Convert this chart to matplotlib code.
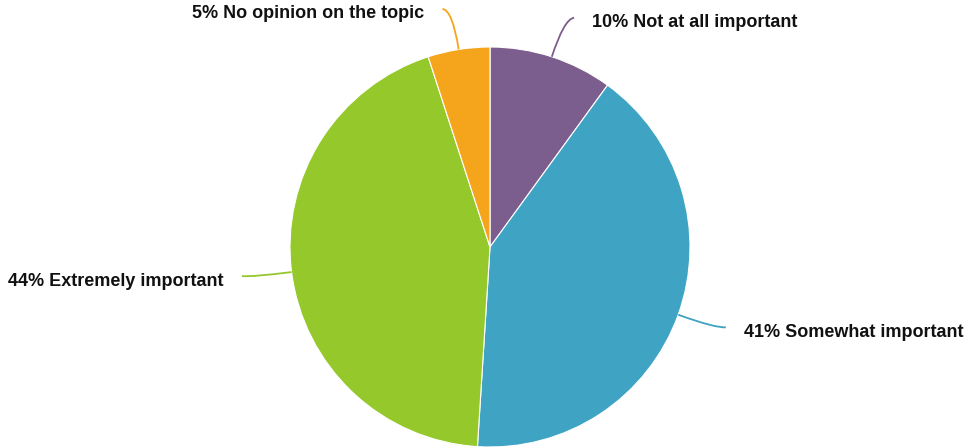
import numpy as np
import matplotlib
matplotlib.use('Agg')
from matplotlib import pyplot as plt
from matplotlib.path import Path
from matplotlib.patches import PathPatch

# data, clockwise from 12 o'clock
labels = ['Not at all important', 'Somewhat important', 'Extremely important', 'No opinion on the topic']
values = [10, 41, 44, 5]
colors = ['#7C5E8E', '#3FA3C4', '#95C82A', '#F5A51C']

W, H = 967, 448
cx, cy, r = 490, H - 247, 200

fig = plt.figure(figsize=(W / 100, H / 100), dpi=100)
ax = fig.add_axes([0, 0, 1, 1])

ax.pie(values, colors=colors, startangle=90, counterclock=False,
       center=(cx, cy), radius=r,
       wedgeprops=dict(edgecolor='white', linewidth=0.8))

# pie() resets the limits, so set them afterwards
ax.set_xlim(0, W)
ax.set_ylim(0, H)
ax.set_aspect('equal')
ax.axis('off')

# leader lines + labels
total = sum(values)
start = 90.0
for lab, val, col in zip(labels, values, colors):
    span = 360.0 * val / total
    mid = np.radians(start - span / 2)
    start -= span
    c, s = np.cos(mid), np.sin(mid)
    p0 = (cx + r * c, cy + r * s)
    p1 = (cx + (r + 40) * c, cy + (r + 40) * s)
    side = 1 if c >= 0 else -1
    p2 = (p1[0] + side * 10, p1[1] + 1)
    path = Path([p0, p1, p2], [Path.MOVETO, Path.CURVE3, Path.CURVE3])
    ax.add_patch(PathPatch(path, fill=False, edgecolor=col, linewidth=1.3))
    ax.text(p2[0] + side * 18, p2[1] - 5, f'{val}% {lab}',
            ha='left' if side > 0 else 'right', va='center',
            fontsize=13, fontweight='bold', family='Liberation Sans', color='#111111')

fig.savefig('out.png', dpi=100)
